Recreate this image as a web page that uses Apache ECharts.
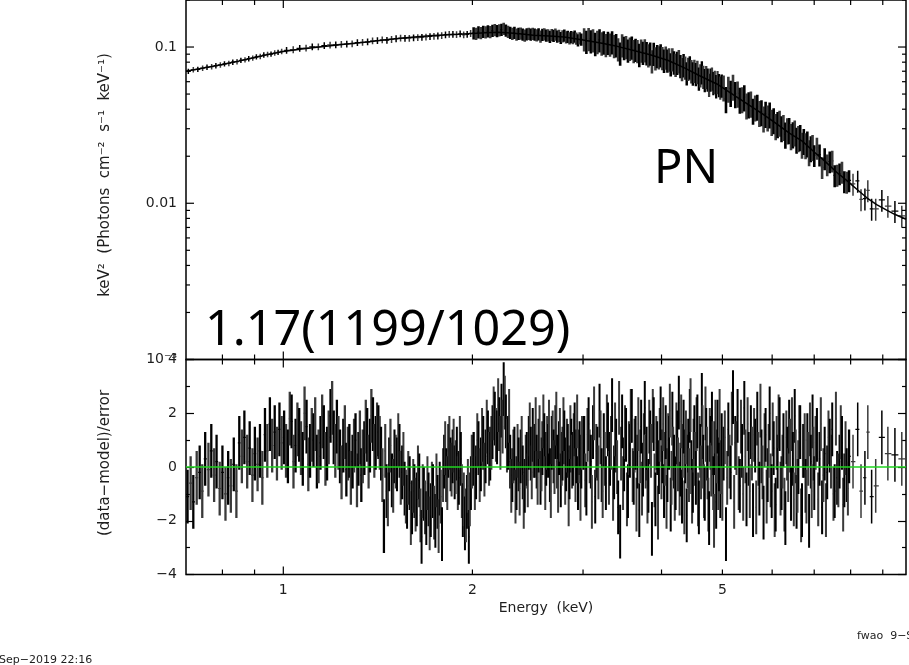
<!DOCTYPE html>
<html><head><meta charset="utf-8">
<script src="https://cdn.jsdelivr.net/npm/echarts@6/dist/echarts.min.js"></script>
<style>html,body{margin:0;padding:0;background:#fff;overflow:hidden}#c{width:909px;height:665px}</style>
</head><body><div id="c"></div>
<script>
// ---------------- axes ----------------
const energyRange = [0.7, 9.8];
const fluxRange = [0.001, 0.2];
const residRange = [-4, 4];
const xMajorTicks = [1];
const xMinorTicks = [0.8, 0.9, 2, 3, 4, 5, 6, 7, 8, 9];
const xTickLabels = [1, 2, 5];
const fluxMajorTicks = [0.001, 0.01, 0.1];
const fluxMinorTicks = [0.002,0.003,0.004,0.005,0.006,0.007,0.008,0.009,0.02,0.03,0.04,0.05,0.06,0.07,0.08,0.09,0.2];
const fluxTickLabels = ['10\u207B\u00B3', '0.01', '0.1'];
const zeroLevel = 0;
const residErr = 1;

// ---------------- model (keV^2 Photons cm^-2 s^-1 keV^-1) ----------------
const modelE = [0.70,0.75,0.80,0.85,0.90,0.95,1.00,1.07,1.15,1.25,1.36,1.48,1.60,1.73,1.87,2.00,2.10,2.20,2.30,2.40,2.50,2.65,2.80,3.00,3.20,3.40,3.60,3.85,4.10,4.35,4.60,4.90,5.20,5.50,5.80,6.10,6.40,6.70,7.00,7.30,7.60,7.90,8.20,8.50,8.80,9.10,9.40,9.80];
const modelFlux = [.0700,.0737,.0773,.0815,.0858,.0900,.0935,.0972,.1005,.1040,.1076,.1120,.1155,.1185,.1205,.1222,.1235,.1245,.1230,.1210,.1190,.1175,.1158,.1110,.1060,.1010,.0955,.0890,.0820,.0735,.0655,.0580,.0495,.0428,.0372,.0322,.0280,.0250,.0213,.0184,.0158,.0139,.0122,.0108,.0098,.0091,.0085,.0079];

// ---------------- spectrum, low-energy bins (top panel only) ----------------
const specA_E = [0.706,0.719,0.731,0.744,0.756,0.769,0.781,0.794,0.806,0.819,0.831,0.844,0.856,0.869,0.881,0.894,0.906,0.919,0.931,0.944,0.956,0.969,0.981,0.994];
const specA_F = [.0699,.0716,.0720,.0733,.0742,.0749,.0760,.0768,.0781,.0785,.0800,.0806,.0822,.0828,.0842,.0850,.0866,.0871,.0889,.0897,.0901,.0916,.0925,.0937];
const specB_E = [1.012,1.037,1.062,1.087,1.112,1.137,1.162,1.187,1.212,1.237,1.262,1.287,1.312,1.337,1.362,1.387,1.412,1.437,1.462,1.487,1.512,1.537,1.562,1.587,1.612,1.637,1.662,1.687,1.712,1.737,1.762,1.787,1.812,1.837,1.862,1.887,1.912,1.937,1.962,1.987];
const specB_F = [.0953,.0962,.0981,.0986,.1003,.1004,.1021,.1031,.1033,.1040,.1046,.1050,.1067,.1071,.1080,.1097,.1101,.1112,.1106,.1119,.1131,.1140,.1139,.1138,.1147,.1150,.1156,.1160,.1168,.1172,.1178,.1185,.1199,.1205,.1207,.1203,.1214,.1196,.1205,.1222];

// ---------------- residual bins (and spectrum bins above 2 keV) ----------------
const binsA_E = [0.704,0.712,0.719,0.728,0.736,0.743,0.751,0.760,0.768,0.776,0.783,0.792,0.800,0.809,0.817,0.825,0.834,0.842,0.851,0.859,0.867,0.876,0.884,0.893,0.901,0.910,0.918,0.926,0.935,0.943,0.952,0.960,0.969,0.977,0.986,0.994];
const residA = [-1.1,-0.6,-1.3,-0.4,-0.2,-0.9,0.3,-0.1,0.6,-0.3,0.2,-0.8,-0.2,-1.0,-0.4,-0.7,0.1,-0.9,0.9,0.4,1.1,0.2,0.7,-0.3,0.5,0.1,0.6,-0.4,1.2,0.6,1.6,0.8,1.3,0.5,1.4,0.9];

const binsB_E = [1.003,1.017,1.031,1.046,1.060,1.074,1.089,1.103,1.117,1.131,
1.146,1.160,1.174,1.189,1.203,1.217,1.231,1.246,1.260,1.274,
1.289,1.303,1.317,1.331,1.346,1.360,1.374,1.389,1.403,1.417,
1.431,1.446,1.460,1.474,1.489,1.503,1.517,1.531,1.546,1.560,
1.574,1.589,1.603,1.617,1.631,1.646,1.660,1.674,1.689,1.703,
1.717,1.731,1.746,1.760,1.774,1.789,1.803,1.817,1.831,1.846,
1.860,1.874,1.889,1.903,1.917,1.931,1.946,1.960,1.974,1.989];
const residB = [1.1,0.4,1.7,0.8,1.2,0.3,1.5,0.6,1.0,0.2,
0.9,1.3,0.5,1.9,1.1,1.5,0.4,0.8,-0.1,0.6,
0.2,1.0,0.3,-0.3,0.7,1.2,0.8,1.6,0.9,1.3,
0.5,-2.2,-0.9,0.1,-0.5,0.4,0.1,0.6,-0.2,-0.8,
-1.3,-0.6,-1.5,-0.9,-1.2,-0.5,-2.6,-1.0,-1.9,-1.2,
-1.6,-0.9,-2.0,-1.3,-0.8,-2.5,0.2,-0.3,0.6,0.1,
0.4,-0.2,0.5,-0.4,0.3,-1.6,-2.1,-1.3,-2.6,-0.6];
const binsB2_E = [1.010,1.024,1.038,1.053,1.067,1.081,1.096,1.110,1.124,1.138,
1.153,1.167,1.181,1.196,1.210,1.224,1.238,1.253,1.267,1.281,
1.296,1.310,1.324,1.338,1.353,1.367,1.381,1.396,1.410,1.424,
1.438,1.453,1.467,1.481,1.496,1.510,1.524,1.538,1.553,1.567,
1.581,1.596,1.610,1.624,1.638,1.653,1.667,1.681,1.696,1.710,
1.724,1.738,1.753,1.767,1.781,1.796,1.810,1.824,1.838,1.853,
1.867,1.881,1.896,1.910,1.924,1.938,1.953,1.967,1.981,1.996];
const residB2 = [0.6,1.8,0.2,1.4,0.7,2.0,0.1,1.2,1.6,0.4,
1.7,0.3,1.1,2.2,0.6,0.9,-0.2,1.3,0.5,-0.4,
0.8,-0.5,1.1,0.4,1.5,0.2,1.9,0.6,1.4,0.9,
-0.3,0.6,-1.2,0.8,-0.7,0.2,1.0,-0.4,0.3,-1.1,
-0.4,-1.9,-0.7,-1.4,-0.2,-1.8,-0.9,-1.5,-0.6,-2.1,
-0.8,-1.7,-0.5,-2.2,-1.1,-0.3,0.7,-0.6,0.9,-0.1,
0.8,0.0,-0.6,0.9,-0.9,-1.2,-1.8,-0.7,-1.2,0.2];

const binsC_E = [2.009,2.027,2.045,2.063,2.081,2.099,2.117,2.135,2.153,2.171,
2.189,2.207,2.225,2.243,2.261,2.279,2.297,2.315,2.333,2.351,
2.369,2.387,2.405,2.423,2.441,2.459,2.477,2.495,2.513,2.531,
2.549,2.567,2.585,2.603,2.621,2.639,2.657,2.675,2.693,2.711,
2.729,2.747,2.765,2.783,2.801,2.819,2.837,2.855,2.873,2.891,
2.909,2.927,2.945,2.963,2.981];
const residC = [0.3,-0.2,0.7,0.1,0.9,0.4,1.1,0.5,1.3,1.8,
1.1,1.6,2.1,2.9,1.7,0.9,0.2,-0.3,0.5,-0.6,
0.1,0.4,-0.2,-0.7,0.3,0.9,0.5,1.2,0.6,0.2,
0.8,-0.4,0.7,1.0,0.3,0.6,-0.3,0.9,0.4,1.3,
0.2,0.7,-0.5,0.5,1.1,0.1,0.6,-0.2,0.8,0.3,
1.4,0.4,-0.6,0.7,0.2];
const fluxC = [.1230,.1221,.1245,.1232,.1255,.1245,.1264,.1250,.1272,.1287,
.1271,.1284,.1293,.1310,.1278,.1255,.1235,.1220,.1235,.1205,
.1218,.1223,.1204,.1188,.1209,.1220,.1206,.1220,.1207,.1193,
.1209,.1171,.1203,.1210,.1187,.1194,.1165,.1198,.1182,.1206,
.1172,.1184,.1147,.1175,.1190,.1157,.1166,.1139,.1163,.1145,
.1172,.1138,.1106,.1139,.1121];
const binsC2_E = [2.018,2.036,2.054,2.072,2.090,2.108,2.126,2.144,2.162,2.180,
2.198,2.216,2.234,2.252,2.270,2.288,2.306,2.324,2.342,2.360,
2.378,2.396,2.414,2.432,2.450,2.468,2.486,2.504,2.522,2.540,
2.558,2.576,2.594,2.612,2.630,2.648,2.666,2.684,2.702,2.720,
2.738,2.756,2.774,2.792,2.810,2.828,2.846,2.864,2.882,2.900,
2.918,2.936,2.954,2.972,2.990];
const residC2 = [-0.6,1.0,-0.3,1.2,-0.1,1.5,0.3,0.9,2.0,1.2,
2.3,0.9,1.5,2.4,0.8,1.9,-0.7,0.4,-1.1,0.6,
-0.8,0.9,-1.3,0.2,-0.5,1.4,-0.2,0.6,1.6,-0.4,
1.3,0.1,1.7,-0.6,0.9,1.5,-0.9,1.1,0.0,1.8,
-0.7,1.2,0.3,1.6,-0.4,0.8,-1.2,1.3,0.2,1.0,
-0.3,1.7,0.4,-1.0,0.9];

const binsD_E = [3.012,3.037,3.062,3.087,3.112,3.137,3.162,3.187,3.212,3.237,
3.262,3.287,3.312,3.337,3.362,3.387,3.412,3.437,3.462,3.487,
3.512,3.537,3.562,3.587,3.612,3.637,3.662,3.687,3.712,3.737,
3.762,3.787,3.812,3.837,3.862,3.887,3.912,3.937,3.962,3.987,
4.012,4.037,4.062,4.087,4.112,4.137,4.162,4.187,4.212,4.237,
4.262,4.287,4.312,4.337,4.362,4.387,4.412,4.437,4.462,4.487,
4.512,4.537,4.562,4.587,4.612,4.637,4.662,4.687,4.712,4.737,
4.762,4.787,4.812,4.837,4.862,4.887,4.912,4.937,4.962,4.987];
const residD = [0.9,-0.8,1.6,0.2,1.3,-1.1,0.5,2.1,-0.3,1.0,
-0.6,1.4,0.3,2.3,-0.2,0.8,-1.5,-2.4,1.7,0.1,
1.2,-0.9,0.6,1.9,-0.4,0.9,0.2,-1.6,1.5,-0.1,
2.2,0.5,-0.7,1.1,-2.3,1.6,-1.2,0.7,0.0,2.0,
0.4,-0.9,1.3,-0.3,0.9,-1.4,1.8,0.2,-0.6,1.1,
2.4,-0.1,-1.1,1.5,0.4,-1.8,0.8,1.9,0.0,-0.7,
1.3,-0.4,1.7,-1.5,0.6,2.5,0.2,-1.0,1.2,-0.2,
-1.9,0.9,1.8,-0.6,0.7,-1.3,1.5,0.1,-0.9,1.0];
const fluxD = [.1126,.1086,.1133,.1096,.1112,.1053,.1085,.1111,.1061,.1077,
.1037,.1071,.1043,.1080,.1020,.1034,.0974,.0915,.1031,.0993,
.1006,.0955,.0982,.0998,.0949,.0965,.0949,.0896,.0955,.0925,
.0958,.0919,.0891,.0915,.0816,.0911,.0852,.0881,.0865,.0891,
.0856,.0823,.0861,.0824,.0838,.0779,.0839,.0802,.0775,.0798,
.0817,.0760,.0728,.0770,.0744,.0684,.0731,.0745,.0705,.0682,
.0708,.0675,.0697,.0632,.0664,.0693,.0649,.0619,.0647,.0624,
.0576,.0624,.0632,.0591,.0603,.0565,.0600,.0575,.0553,.0571];
const binsD2_E = [3.024,3.049,3.074,3.099,3.124,3.149,3.174,3.199,3.224,3.249,
3.274,3.299,3.324,3.349,3.374,3.399,3.424,3.449,3.474,3.499,
3.524,3.549,3.574,3.599,3.624,3.649,3.674,3.699,3.724,3.749,
3.774,3.799,3.824,3.849,3.874,3.899,3.924,3.949,3.974,3.999,
4.024,4.049,4.074,4.099,4.124,4.149,4.174,4.199,4.224,4.249,
4.274,4.299,4.324,4.349,4.374,4.399,4.424,4.449,4.474,4.499,
4.524,4.549,4.574,4.599,4.624,4.649,4.674,4.699,4.724,4.749,
4.774,4.799,4.824,4.849,4.874,4.899,4.924,4.949,4.974,4.999];
const residD2 = [-0.5,1.2,0.4,-1.3,2.0,0.6,-0.2,1.1,-0.9,0.3,
1.7,-0.4,0.9,-1.0,1.4,0.0,2.2,0.5,-0.6,1.3,
-1.2,0.7,1.9,-0.3,0.8,-1.4,1.6,0.4,-0.8,1.0,
0.2,-1.1,1.5,0.6,1.9,-0.5,0.9,-1.7,1.2,-0.2,
1.6,0.3,-1.3,1.0,2.1,-0.4,0.5,-1.0,1.4,0.1,
-0.8,1.7,0.6,-1.5,1.1,0.2,-0.3,2.3,-1.1,0.8,
0.3,1.6,-1.2,0.9,-0.2,1.3,-0.9,2.0,0.5,-1.4,
1.2,-0.1,0.7,-2.0,1.5,0.4,-0.6,1.9,0.0,-1.0];

const binsE_E = [5.022,5.066,5.110,5.154,5.198,5.242,5.286,5.330,5.374,5.418,
5.462,5.506,5.550,5.594,5.638,5.682,5.726,5.770,5.814,5.858,
5.902,5.946,5.990,6.034,6.078,6.122,6.166,6.210,6.254,6.298,
6.342,6.386,6.430,6.474,6.518,6.562,6.606,6.650,6.694,6.738,
6.782,6.826,6.870,6.914,6.958];
const residE = [0.5,-2.5,1.4,-0.2,2.6,0.9,1.9,-0.7,0.6,2.2,
-1.2,0.3,1.3,-1.6,0.8,1.8,-0.8,0.4,-1.7,1.2,
-0.3,2.0,-0.9,0.7,-1.4,0.2,1.6,-0.6,1.0,-1.9,
0.5,1.5,-1.0,0.3,1.9,-1.3,0.0,1.3,-1.6,0.6,
-0.7,1.0,-2.0,0.2,1.7];
const fluxE = [.0553,.0466,.0543,.0511,.0559,.0501,.0505,.0461,.0465,.0478,
.0424,.0431,.0436,.0392,.0412,.0416,.0380,.0384,.0350,.0375,
.0355,.0371,.0333,.0341,.0313,.0322,.0329,.0303,.0309,.0276,
.0294,.0295,.0270,.0277,.0285,.0256,.0262,.0266,.0238,.0251,
.0236,.0242,.0213,.0226,.0230];
const binsE2_E = [5.044,5.088,5.132,5.176,5.220,5.264,5.308,5.352,5.396,5.440,
5.484,5.528,5.572,5.616,5.660,5.704,5.748,5.792,5.836,5.880,
5.924,5.968,6.012,6.056,6.100,6.144,6.188,6.232,6.276,6.320,
6.364,6.408,6.452,6.496,6.540,6.584,6.628,6.672,6.716,6.760,
6.804,6.848,6.892,6.936,6.980];
const residE2 = [1.1,-0.4,0.2,1.8,-1.3,0.7,-0.6,1.5,-1.0,0.4,
1.6,-0.9,0.5,1.2,-1.5,0.3,2.1,-0.2,1.0,-1.1,
0.6,-0.5,1.4,-1.6,0.9,1.7,-0.8,0.2,-1.4,1.1,
-0.3,0.8,1.6,-1.2,0.4,-0.7,1.3,-1.8,0.6,1.0,
-1.1,0.3,1.4,-0.9,0.5];

const binsF_E = [7.002,7.070,7.138,7.206,7.274,7.342,7.410,7.478,7.546,7.614,7.682,7.750,7.818,7.886,7.954,8.07,8.21,8.31,8.43,8.52,8.64,8.77,8.97,9.17,9.41,9.65];
const residF = [-0.6,1.2,0.3,-1.5,0.5,-0.2,0.8,1.4,-0.9,-0.4,0.2,0.9,-0.5,-0.3,0.4,0.2,1.4,-0.9,-0.4,1.3,-1.1,-0.7,1.1,0.5,0.45,0.3];
const fluxF = [.0203,.0226,.0205,.0170,.0194,.0177,.0185,.0187,.0151,.0152,.0155,.0159,.0138,.0137,.0140,.0133,.0139,.0106,.0107,.0121,.0092,.0092,.0105,.0096,.0089,.0083];
const binsF2_E = [7.036,7.104,7.172,7.240,7.308,7.376,7.444,7.512,7.580,7.648,7.716,7.784,7.852,7.920];
const residF2 = [0.9,-1.2,1.6,-0.3,-1.6,1.1,0.2,-1.0,1.8,-0.5,1.3,-1.4,0.7,-0.8];

// relative 1-sigma flux error per spectrum segment (A,B,C,D,E,F)
const fluxRelErr = [0.04, 0.05, 0.09, 0.17, 0.19, 0.16];

// ---------------- build ----------------
function withBounds(E) {
  return E.map((e, i) => {
    const lo = i > 0 ? (E[i-1] + e) / 2 : e - (E[1] - E[0]) / 2;
    const hi = i < E.length - 1 ? (E[i+1] + e) / 2 : e + (e - E[i-1]) / 2;
    return [lo, hi];
  });
}
const specSegs = [[specA_E, specA_F],[specB_E, specB_F],[binsC_E, fluxC],[binsD_E, fluxD],[binsE_E, fluxE],[binsF_E, fluxF]];
let specE = [], specF = [], specRel = [];
specSegs.forEach((s, k) => { s[0].forEach((e, i) => { specE.push(e); specF.push(s[1][i]); specRel.push(fluxRelErr[k]); }); });
const specBounds = withBounds(specE);
const specData = specE.map((e, i) => [e, specF[i], specF[i]*(1-specRel[i]), specF[i]*(1+specRel[i]), specBounds[i][0], specBounds[i][1]]);

const resSegs = [[binsA_E, residA],[binsB_E, residB],[binsB2_E, residB2],[binsC_E, residC],[binsC2_E, residC2],
  [binsD_E, residD],[binsD2_E, residD2],[binsE_E, residE],[binsE2_E, residE2],[binsF_E, residF],[binsF2_E, residF2]];
const resPairs = [];
resSegs.forEach(s => s[0].forEach((e, i) => resPairs.push([e, s[1][i]])));
resPairs.sort((a, b) => a[0] - b[0]);
const resE = resPairs.map(p => p[0]);
const resBounds = withBounds(resE);
const resData = resPairs.map((p, i) => [p[0], p[1], p[1]-residErr, p[1]+residErr, resBounds[i][0], resBounds[i][1]]);

const INK = '#000', GREY = '#3a3a3a', TXT = '#1e1e1e';
const LABEL_FONT = '14px "DejaVu Sans", "Liberation Sans", sans-serif';

function errBarSeries(xi, yi, data, z, minW, maxW) {
  return {
    type: 'custom', xAxisIndex: xi, yAxisIndex: yi, silent: true, clip: true, z: z,
    data: data,
    renderItem: (params, api) => {
      const e = api.value(0), v = api.value(1), lo = api.value(2), hi = api.value(3), el = api.value(4), eh = api.value(5);
      const a = api.coord([e, lo]), b = api.coord([e, hi]);
      const l = api.coord([el, v]), r = api.coord([eh, v]);
      const gap = r[0] - l[0];
      const lw = gap <= 3.2 ? Math.max(minW, Math.min(maxW, gap * 1.6)) : 1.5;
      const col = params.dataIndex % 2 ? GREY : INK;
      return { type: 'group', children: [
        { type: 'line', shape: { x1: a[0], y1: a[1], x2: b[0], y2: b[1] }, style: { stroke: col, lineWidth: lw } },
        { type: 'line', shape: { x1: l[0], y1: l[1], x2: r[0], y2: r[1] }, style: { stroke: col, lineWidth: 1.2 } }
      ]};
    }
  };
}

function tickSeries(xi, yi, axis, values, len, ref) {
  return {
    type: 'custom', xAxisIndex: xi, yAxisIndex: yi, silent: true, clip: false, z: 20,
    data: values.map(v => axis === 'x' ? [v, ref] : [ref, v]),
    renderItem: (params, api) => {
      const cs = params.coordSys;
      const p = api.coord([api.value(0), api.value(1)]);
      const st = { stroke: INK, lineWidth: 1.2 };
      let s1, s2;
      if (axis === 'x') {
        const x = p[0];
        s1 = { x1: x, y1: cs.y, x2: x, y2: cs.y + len };
        s2 = { x1: x, y1: cs.y + cs.height, x2: x, y2: cs.y + cs.height - len };
      } else {
        const y = p[1];
        s1 = { x1: cs.x, y1: y, x2: cs.x + len, y2: y };
        s2 = { x1: cs.x + cs.width, y1: y, x2: cs.x + cs.width - len, y2: y };
      }
      return { type: 'group', children: [ { type: 'line', shape: s1, style: st }, { type: 'line', shape: s2, style: st } ] };
    }
  };
}

function labelSeries(xi, yi, axis, values, texts, ref) {
  return {
    type: 'custom', xAxisIndex: xi, yAxisIndex: yi, silent: true, clip: false, z: 20,
    data: values.map(v => axis === 'x' ? [v, ref] : [ref, v]),
    renderItem: (params, api) => {
      const cs = params.coordSys;
      const p = api.coord([api.value(0), api.value(1)]);
      const t = texts[params.dataIndex];
      if (axis === 'x') {
        return { type: 'text', x: p[0], y: cs.y + cs.height + 9,
          style: { text: t, font: LABEL_FONT, fill: TXT, align: 'center', textAlign: 'center', verticalAlign: 'top', textVerticalAlign: 'top' } };
      }
      return { type: 'text', x: cs.x - 9, y: p[1],
        style: { text: t, font: LABEL_FONT, fill: TXT, align: 'right', textAlign: 'right', verticalAlign: 'middle', textVerticalAlign: 'middle' } };
    }
  };
}

const hiddenAxis = { axisLine: { show: false }, axisTick: { show: false }, axisLabel: { show: false }, splitLine: { show: false } };
const residAxisCommon = {
  type: 'value', gridIndex: 1, min: residRange[0], max: residRange[1], interval: 2,
  axisLine: { show: false }, splitLine: { show: false },
  axisTick: { show: true, inside: true, length: 8, lineStyle: { color: INK, width: 1.2 } },
  minorTick: { show: true, splitNumber: 2, length: 4, lineStyle: { color: INK, width: 1.2 } }
};

function txt(text, x, y, font, opts) {
  return Object.assign({ type: 'text', x: x, y: y, silent: true, z: 50,
    style: Object.assign({ text: text, font: font, fill: TXT, align: 'center', textAlign: 'center', verticalAlign: 'middle', textVerticalAlign: 'middle' }, opts && opts.style) }, opts && opts.el);
}

const option = {
  animation: false,
  backgroundColor: '#fff',
  grid: [
    { left: 186, top: 0, width: 720, height: 359.5, show: true, borderColor: INK, borderWidth: 1.5, backgroundColor: 'transparent' },
    { left: 186, top: 359.5, width: 720, height: 215, show: true, borderColor: INK, borderWidth: 1.5, backgroundColor: 'transparent' }
  ],
  xAxis: [
    Object.assign({ type: 'log', logBase: 10, gridIndex: 0, min: energyRange[0], max: energyRange[1] }, hiddenAxis),
    Object.assign({ type: 'log', logBase: 10, gridIndex: 1, min: energyRange[0], max: energyRange[1] }, hiddenAxis)
  ],
  yAxis: [
    Object.assign({ type: 'log', logBase: 10, gridIndex: 0, min: fluxRange[0], max: fluxRange[1] }, hiddenAxis),
    Object.assign({}, residAxisCommon, { position: 'left',
      axisLabel: { show: true, margin: 9, color: TXT, fontSize: 14, fontFamily: '"DejaVu Sans", "Liberation Sans", sans-serif',
        showMinLabel: true, showMaxLabel: true, formatter: v => String(v).replace('-', '\u2212') } }),
    Object.assign({}, residAxisCommon, { position: 'right', axisLabel: { show: false } })
  ],
  series: [
    errBarSeries(0, 0, specData, 3, 1.5, 2.6),
    { type: 'line', xAxisIndex: 0, yAxisIndex: 0, data: modelE.map((e, i) => [e, modelFlux[i]]),
      showSymbol: false, symbol: 'none', silent: true, z: 4, lineStyle: { color: INK, width: 1.5 } },
    errBarSeries(1, 1, resData, 3, 2.0, 2.3),
    { type: 'custom', xAxisIndex: 1, yAxisIndex: 1, silent: true, clip: false, z: 8, data: [[1, zeroLevel]],
      renderItem: (params, api) => {
        const cs = params.coordSys; const p = api.coord([api.value(0), api.value(1)]);
        return { type: 'line', shape: { x1: cs.x, y1: p[1], x2: cs.x + cs.width, y2: p[1] }, style: { stroke: '#1fd41f', lineWidth: 1.3 } };
      } },
    tickSeries(0, 0, 'x', xMajorTicks, 8, 0.01),
    tickSeries(0, 0, 'x', xMinorTicks, 5, 0.01),
    tickSeries(1, 1, 'x', xMajorTicks, 8, 0),
    tickSeries(1, 1, 'x', xMinorTicks, 5, 0),
    tickSeries(0, 0, 'y', fluxMajorTicks, 8, 1),
    tickSeries(0, 0, 'y', fluxMinorTicks, 4, 1),
    labelSeries(1, 1, 'x', xTickLabels, xTickLabels.map(String), 0),
    labelSeries(0, 0, 'y', fluxMajorTicks, fluxTickLabels, 1)
  ],
  graphic: [
    txt('keV\u00B2  (Photons  cm\u207B\u00B2  s\u207B\u00B9  keV\u207B\u00B9)', 105, 175, '15px "DejaVu Sans", sans-serif', { el: { rotation: Math.PI / 2 } }),
    txt('(data\u2212model)/error', 105, 463, '15px "DejaVu Sans", sans-serif', { el: { rotation: Math.PI / 2 } }),
    txt('Energy  (keV)', 546, 608, LABEL_FONT),
    txt('1.17(1199/1029)', 205, 331, '48.5px "Noto Sans", "Open Sans", sans-serif', { style: { fill: '#000', align: 'left', textAlign: 'left' } }),
    txt('PN', 654, 170, '47px "Noto Sans", "Open Sans", sans-serif', { style: { fill: '#000', align: 'left', textAlign: 'left' } }),
    txt('Sep\u22122019 22:16', -1, 660, '11px "DejaVu Sans", sans-serif', { style: { align: 'left', textAlign: 'left' } }),
    txt('fwao  9\u2212Sep\u22122019 22:16', 857, 636, '11px "DejaVu Sans", sans-serif', { style: { align: 'left', textAlign: 'left' } })
  ]
};

const chart = echarts.init(document.getElementById('c'), null, { renderer: 'canvas' });
chart.setOption(option);
</script>
</body></html>
